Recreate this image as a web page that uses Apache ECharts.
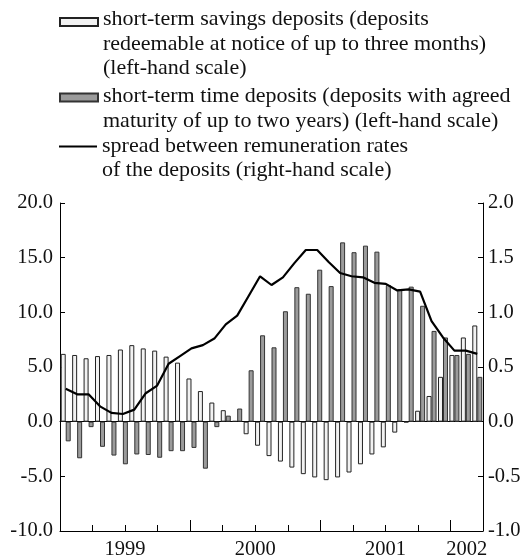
<!DOCTYPE html>
<html>
<head>
<meta charset="utf-8">
<script src="https://cdn.jsdelivr.net/npm/echarts@6/dist/echarts.min.js"></script>
<style>
  html, body { margin: 0; padding: 0; background: #fff; }
  #chart { width: 526px; height: 560px; }
</style>
</head>
<body>
<div id="chart"></div>
<script>
// monthly observations (hidden category axis)
var months = [
    '1999-01', '1999-02', '1999-03', '1999-04', '1999-05', '1999-06',
    '1999-07', '1999-08', '1999-09', '1999-10', '1999-11', '1999-12',
    '2000-01', '2000-02', '2000-03', '2000-04', '2000-05', '2000-06',
    '2000-07', '2000-08', '2000-09', '2000-10', '2000-11', '2000-12',
    '2001-01', '2001-02', '2001-03', '2001-04', '2001-05', '2001-06',
    '2001-07', '2001-08', '2001-09', '2001-10', '2001-11', '2001-12',
    '2002-01'
];

// short-term savings deposits (left-hand scale)
var savings = [6.2, 6.1, 5.8, 6.0, 6.1, 6.6, 7.0, 6.7, 6.5, 5.95, 5.4, 3.95, 2.8, 1.75, 1.05, 0.06, -1.15, -2.2, -3.15,
    -3.65, -4.2, -4.8, -5.1, -5.35, -5.1, -4.65, -3.9, -3.0, -2.35, -1.0, -0.06, 1.0, 2.35, 4.1, 6.1, 7.7, 8.8];

// short-term time deposits (left-hand scale)
var timeDep = [-1.8, -3.35, -0.5, -2.3, -3.1, -3.9, -3.0, -3.05, -3.3, -2.7, -2.7, -2.4, -4.3, -0.5, 0.55, 1.2, 4.7, 7.9, 6.8,
    10.1, 12.3, 11.7, 13.9, 12.4, 16.4, 15.5, 16.1, 15.55, 12.5, 12.1, 12.35, 10.6, 8.3, 7.7, 6.1, 6.2, 4.1];

// spread between remuneration rates (right-hand scale)
var spread = [0.30, 0.25, 0.25, 0.14, 0.08, 0.07, 0.11, 0.26, 0.33, 0.53, 0.60, 0.67, 0.70, 0.76, 0.89, 0.97, 1.15, 1.33, 1.25,
    1.32, 1.45, 1.57, 1.57, 1.46, 1.36, 1.33, 1.32, 1.27, 1.26, 1.20, 1.21, 1.19, 0.92, 0.77, 0.65, 0.65, 0.62];

// time axis: quarters from the start, year labels at the middle of each year
var quarterCount = 13;
var yearLabels = ['1999', '2000', '2001', '2002'];
var yearCentres = [2, 6, 10, 12.5];

var names = [
    'short-term savings deposits (deposits\nredeemable at notice of up to three months)\n(left-hand scale)',
    'short-term time deposits (deposits with agreed\nmaturity of up to two years) (left-hand scale)',
    'spread between remuneration rates\nof the deposits (right-hand scale)'
];

var FONT = 'Liberation Serif';
var LH = 24.5;

// 图例: one legend per series; blank lines on top keep the key level with the first text line
function makeLegend(name, iconCentre, iconH, d) {
    var n = name.split('\n').length;
    var gapH = LH - 2 * d / (n - 1);
    var boxH = (n - 1) * gapH + n * LH;
    var pre = '';
    for (var i = 1; i < n; i++) pre += '{gap| }\n';
    return {
        data: [name],
        orient: 'vertical',
        left: 59,
        top: iconCentre - boxH / 2,
        padding: 0,
        itemWidth: 38,
        itemHeight: iconH,
        icon: 'rect',
        selectedMode: false,
        formatter: function (s) { return pre + s; },
        textStyle: {
            fontFamily: FONT,
            fontSize: 22,
            color: '#111',
            lineHeight: LH,
            rich: { gap: { fontSize: 10, lineHeight: gapH } }
        }
    };
}

var labelStyle = { fontFamily: FONT, fontSize: 20.5, color: '#111' };

var chart = echarts.init(document.getElementById('chart'));
chart.setOption({
    animation: false,
    backgroundColor: '#fff',
    legend: [
        makeLegend(names[0], 22, 8, 2.5),
        makeLegend(names[1], 97.5, 8, 1),
        makeLegend(names[2], 146.5, 2.2, 0.5)
    ],
    grid: { left: 60, right: 43, top: 203, bottom: 28, containLabel: false },
    xAxis: [
        {
            type: 'category',
            data: months,
            position: 'bottom',
            axisLine: { onZero: true, lineStyle: { color: '#000', width: 1 } },
            axisTick: { show: false },
            axisLabel: { show: false },
            splitLine: { show: false }
        },
        {
            type: 'value', min: 0, max: quarterCount, interval: 1, position: 'bottom',
            axisLine: { onZero: false, lineStyle: { color: '#000', width: 1 } },
            axisTick: { inside: true, length: 6, lineStyle: { color: '#000' } },
            axisLabel: { show: false },
            splitLine: { show: false }
        },
        {
            type: 'value', min: 0, max: quarterCount, interval: 4, position: 'bottom',
            axisLine: { show: false, onZero: false },
            axisTick: { inside: true, length: 11, lineStyle: { color: '#000' } },
            axisLabel: { show: false },
            splitLine: { show: false }
        },
        {
            type: 'value', min: 0, max: quarterCount, interval: 0.5, position: 'bottom',
            axisLine: { show: false, onZero: false },
            axisTick: { show: false },
            splitLine: { show: false },
            axisLabel: Object.assign({
                margin: 8,
                showMinLabel: true,
                showMaxLabel: true,
                formatter: function (v) {
                    var i = yearCentres.indexOf(v);
                    return i >= 0 ? yearLabels[i] : '';
                }
            }, labelStyle)
        }
    ],
    yAxis: [
        {
            type: 'value', min: -10, max: 20, interval: 5, position: 'left',
            axisLine: { show: true, onZero: false, lineStyle: { color: '#000', width: 1 } },
            axisTick: { show: true, inside: true, length: 5, lineStyle: { color: '#000' } },
            splitLine: { show: false },
            axisLabel: Object.assign({
                margin: 7,
                formatter: function (v) { return v.toFixed(1); }
            }, labelStyle)
        },
        {
            type: 'value', min: -1, max: 2, interval: 0.5, position: 'right',
            axisLine: { show: true, onZero: false, lineStyle: { color: '#000', width: 1 } },
            axisTick: { show: true, inside: true, length: 5, lineStyle: { color: '#000' } },
            splitLine: { show: false },
            axisLabel: Object.assign({
                margin: 5,
                formatter: function (v) { return v.toFixed(1); }
            }, labelStyle)
        }
    ],
    series: [
        {
            name: names[0],
            type: 'bar',
            xAxisIndex: 0,
            yAxisIndex: 0,
            barWidth: 5,
            barGap: '0%',
            itemStyle: { color: '#f2f2f2', borderColor: '#222', borderWidth: 1 },
            data: savings
        },
        {
            name: names[1],
            type: 'bar',
            xAxisIndex: 0,
            yAxisIndex: 0,
            barWidth: 5,
            barGap: '0%',
            itemStyle: { color: '#9b9b9b', borderColor: '#333', borderWidth: 1 },
            data: timeDep
        },
        {
            name: names[2],
            type: 'line',
            xAxisIndex: 0,
            yAxisIndex: 1,
            symbol: 'none',
            z: 5,
            itemStyle: { color: '#000' },
            lineStyle: { color: '#000', width: 2.2 },
            data: spread
        }
    ]
});
</script>
</body>
</html>
